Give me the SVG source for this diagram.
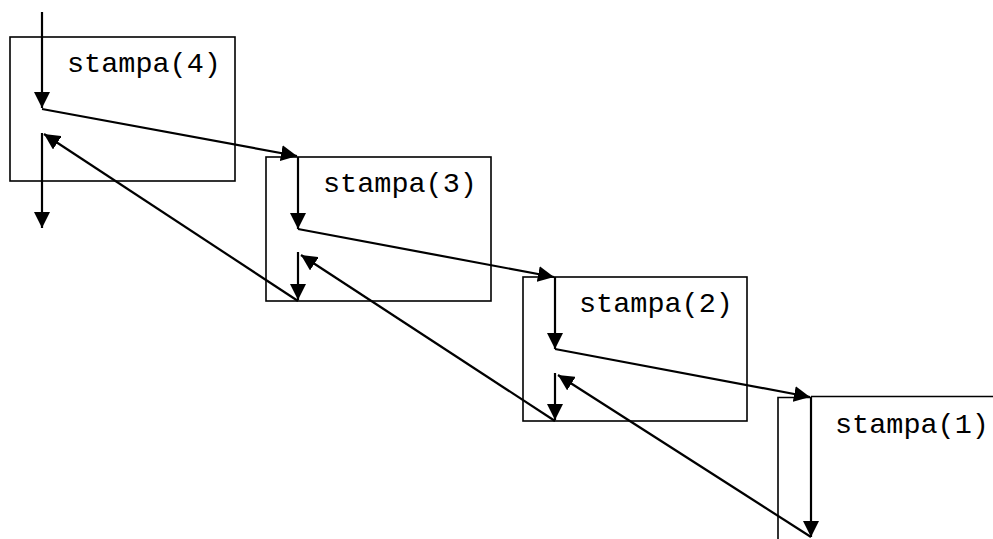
<svg xmlns="http://www.w3.org/2000/svg" width="993" height="539" viewBox="0 0 993 539">
<style>
.box{fill:none;stroke:#000;stroke-width:1.6}
.lbl{font-family:"Liberation Mono","Courier New",monospace;font-size:28.5px;fill:#000}
.c{fill:none;stroke:#000;stroke-width:2.2}
.a{marker-end:url(#ah)}
</style>
<defs>
<marker id="ah" viewBox="0 0 16 16" refX="16" refY="8" markerWidth="16" markerHeight="16" markerUnits="userSpaceOnUse" orient="auto">
<path d="M0,0 L16,8 L0,16 z" fill="#000"/>
</marker>
</defs>
<rect width="993" height="539" fill="#fff"/>
<g id="n4"><rect class="box" x="10" y="37" width="225" height="144"/><text class="lbl" x="67" y="72">stampa(4)</text></g>
<g id="n3"><rect class="box" x="266" y="157" width="225" height="144"/><text class="lbl" x="323" y="192">stampa(3)</text></g>
<g id="n2"><rect class="box" x="523" y="277" width="224" height="144"/><text class="lbl" x="579" y="312">stampa(2)</text></g>
<g id="n1"><path class="box" d="M778,539 L778,397.5 L811,397.5 M811,396.5 L993,396.5"/><text class="lbl" x="835" y="433">stampa(1)</text></g>
<g id="connectors">
<line class="c a" x1="42" y1="12" x2="42" y2="108"/>
<line class="c a" x1="42" y1="109" x2="297" y2="156"/>
<line class="c a" x1="298" y1="157" x2="298" y2="229"/>
<line class="c a" x1="298" y1="229" x2="554" y2="277"/>
<line class="c a" x1="555" y1="277" x2="555" y2="349"/>
<line class="c a" x1="555" y1="349" x2="810" y2="397"/>
<line class="c a" x1="811" y1="397" x2="811" y2="537"/>
<line class="c a" x1="811" y1="537" x2="558" y2="375"/>
<line class="c a" x1="555" y1="373" x2="555" y2="420"/>
<line class="c a" x1="555" y1="421" x2="301" y2="255"/>
<line class="c a" x1="298" y1="252" x2="298" y2="300"/>
<line class="c a" x1="298" y1="301" x2="44" y2="134"/>
<line class="c a" x1="42" y1="133" x2="42" y2="228"/>
</g>
</svg>
